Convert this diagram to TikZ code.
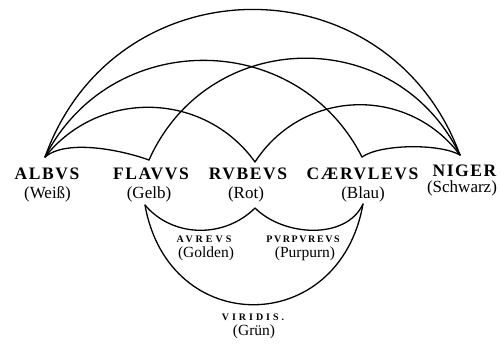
\documentclass[tikz,border=0pt]{standalone}
\usepackage{fontspec}
\setmainfont{Liberation Serif}
\newfontfamily\capsfont[LetterSpace=9]{Liberation Serif}
\newfontfamily\smallcapsfont[LetterSpace=30]{Liberation Serif}
\usetikzlibrary{positioning}
\tikzset{latname/.style={font=\capsfont\bfseries\fontsize{17.5}{18}\selectfont,inner sep=0pt},
  smallname/.style={font=\smallcapsfont\bfseries\fontsize{10}{11}\selectfont,inner sep=0pt},
  gername/.style={font=\fontsize{17}{18}\selectfont,inner sep=0pt},
  smallger/.style={font=\fontsize{15.5}{17}\selectfont,inner sep=0pt},
  link/.style={line width=1.3pt,line cap=round}}

\begin{document}
\begin{tikzpicture}[x=1pt,y=1pt]
\useasboundingbox (0,0) rectangle (502,345);
% the five colours
\node[latname] (albus) at (47,171) {ALBVS};\node[gername] (weiss) at (47.5,150.5) {(Weiß)};
\node[latname] (flavus) at (151,171) {FLAVVS};\node[gername] (gelb) at (149,150.5) {(Gelb)};
\node[latname] (rubeus) at (248,171) {RVBEVS};\node[gername] (rot) at (246,150.5) {(Rot)};
\node[latname] (caeruleus) at (362.5,171) {CÆRVLEVS};\node[gername] (blau) at (363,150.5) {(Blau)};
\node[latname] (niger) at (464.5,174) {NIGER};\node[gername] (schwarz) at (462,157) {(Schwarz)};
% mixtures
\node[smallname] (aureus) at (204,106) {AVREVS};\node[smallger] (golden) at (206,91) {(Golden)};
\node[smallname,font=\smallcapsfont\bfseries\fontsize{10}{11}\selectfont\addfontfeature{LetterSpace=16}] (purpureus) at (303,106) {PVRPVREVS};
\node[smallger] (purpurn) at (305,91) {(Purpurn)};
\node[smallname] (viridis) at (253,28) {VIRIDIS.};\node[smallger] (gruen) at (254,13) {(Grün)};
% ends of the arcs
\coordinate (tA) at (45,188);\coordinate (tF) at (149,185);\coordinate (tR) at (255,183);
\coordinate (tC) at (362,188);\coordinate (tN) at (460,190);
\coordinate (bG) at (145,140);\coordinate (bR) at (255,137);\coordinate (bB) at (363,141);
\draw[link] (tA) to[bend left=70,looseness=1.28] (tN);
\draw[link] (tA) to[bend left=63,looseness=1.17] (tC);
\draw[link] (tF) to[bend left=65,looseness=1.2] (tN);
\draw[link] (tA) to[bend left=53,looseness=1.06] (tR);
\draw[link] (tR) to[bend left=55,looseness=1.09] (tN);
\draw[link] (tA) to[out=40,in=160,looseness=.7] (tF);
\draw[link] (tC) to[out=35,in=150,looseness=.6] (tN);
\draw[link] (bG) to[out=-80,in=-100,looseness=1.59] (bB);
\draw[link] (bG) to[out=-50,in=-135] (bR);
\draw[link] (bR) to[out=-45,in=-115,looseness=.95] (bB);
\end{tikzpicture}
\end{document}
